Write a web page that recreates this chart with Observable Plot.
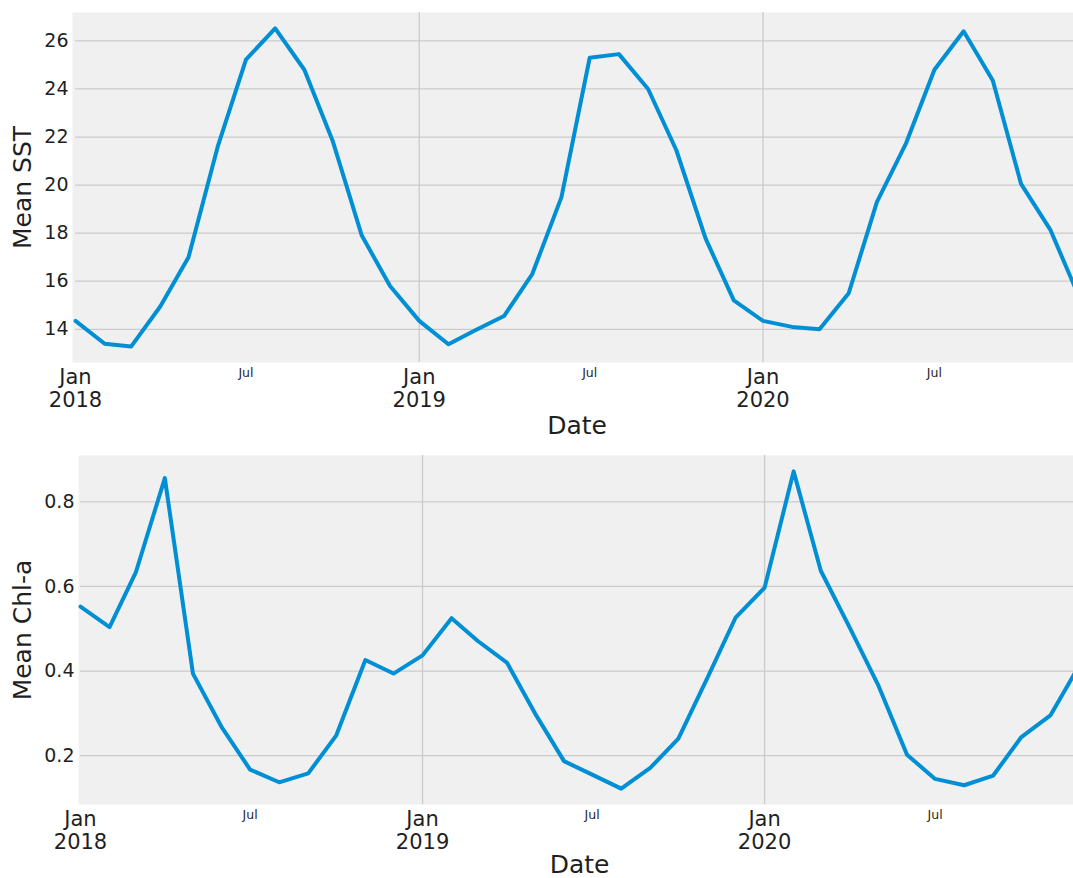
<!DOCTYPE html>
<html>
<head>
<meta charset="utf-8">
<script src="https://cdn.jsdelivr.net/npm/d3@7"></script>
<script src="https://cdn.jsdelivr.net/npm/@observablehq/plot@0.6"></script>
<style>
  html, body { margin: 0; padding: 0; background: #fff; overflow: hidden; }
  #chart svg { display: block; overflow: hidden; }
</style>
</head>
<body>
<div id="chart"></div>
<script>
// Monthly means, Jan 2018 – Dec 2020
const months = [
  "2018-01-01","2018-02-01","2018-03-01","2018-04-01","2018-05-01","2018-06-01",
  "2018-07-01","2018-08-01","2018-09-01","2018-10-01","2018-11-01","2018-12-01",
  "2019-01-01","2019-02-01","2019-03-01","2019-04-01","2019-05-01","2019-06-01",
  "2019-07-01","2019-08-01","2019-09-01","2019-10-01","2019-11-01","2019-12-01",
  "2020-01-01","2020-02-01","2020-03-01","2020-04-01","2020-05-01","2020-06-01",
  "2020-07-01","2020-08-01","2020-09-01","2020-10-01","2020-11-01","2020-12-01"
];

// Sea surface temperature
const sst = [
  14.35, 13.40, 13.28, 14.95, 17.00, 21.60, 25.22, 26.52, 24.80, 21.85, 17.90, 15.80,
  14.35, 13.38, 13.95, 14.55, 16.30, 19.50, 25.30, 25.45, 24.00, 21.45, 17.78, 15.20,
  14.35, 14.10, 14.00, 15.50, 19.30, 21.75, 24.80, 26.40, 24.35, 20.05, 18.15, 15.40
];

// Chlorophyll-a concentration
const chl = [
  0.552, 0.504, 0.633, 0.856, 0.394, 0.266, 0.167, 0.137, 0.158, 0.248, 0.426, 0.394,
  0.437, 0.525, 0.471, 0.420, 0.300, 0.187, 0.155, 0.122, 0.171, 0.240, 0.384, 0.526,
  0.597, 0.872, 0.637, 0.502, 0.368, 0.202, 0.145, 0.130, 0.153, 0.244, 0.295, 0.410
];

// Axis ticks
const sstTicks = [14, 16, 18, 20, 22, 24, 26];
const chlTicks = [0.2, 0.4, 0.6, 0.8];
const yearTicks = ["2018-01-01", "2019-01-01", "2020-01-01"];
const yearLabels = ["Jan\n2018", "Jan\n2019", "Jan\n2020"];
const midTicks = ["2018-07-01", "2019-07-01", "2020-07-01"];
const midLabel = "Jul";

const FONT = "DejaVu Sans, Liberation Sans, sans-serif";
const LINE = "#008fd5";
const GRID = "#cbcbcb";
const BG = "#f0f0f0";
const INK = "#1f1f1f";

const dates = months.map(m => new Date(m));
const yearDates = yearTicks.map(d => new Date(d));
const midDates = midTicks.map(d => new Date(d));

function padded(values) {
  const [lo, hi] = d3.extent(values);
  const pad = (hi - lo) * 0.05;
  return [lo - pad, hi + pad];
}

function panel({values, ticks, tickFmt, ylabel, height, marginTop, marginBottom, marginLeft, bgInset, yPad, ylabelDx, dateDy}) {
  const data = dates.map((date, i) => ({date, value: values[i]}));
  return Plot.plot({
    width: 1073,
    height,
    marginTop,
    marginBottom,
    marginLeft,
    marginRight: -5,
    style: {fontFamily: FONT, color: INK, background: "#fff"},
    x: {type: "utc", domain: [dates[0], dates[dates.length - 1]]},
    y: {domain: padded(values)},
    marks: [
      Plot.frame({fill: BG, stroke: null, insetLeft: -bgInset}),
      Plot.gridY(ticks, {stroke: GRID, strokeOpacity: 1, strokeWidth: 1.3}),
      Plot.gridX(yearDates.slice(1), {stroke: GRID, strokeOpacity: 1, strokeWidth: 1.3}),
      Plot.line(data, {x: "date", y: "value", stroke: LINE, strokeWidth: 4, strokeLinejoin: "round"}),
      Plot.axisY(ticks, {tickSize: 0, tickPadding: yPad, fontSize: 19, tickFormat: tickFmt, label: null}),
      Plot.axisX(yearDates, {
        tickSize: 0, tickPadding: 5, fontSize: 21, lineHeight: 1.1,
        tickFormat: (d, i) => yearLabels[i], label: null
      }),
      Plot.axisX(midDates, {
        tickSize: 0, tickPadding: 6, fontSize: 12.5,
        tickFormat: () => midLabel, label: null
      }),
      Plot.text(["Date"], {frameAnchor: "bottom", dy: dateDy, fontSize: 25, lineAnchor: "middle", fill: INK}),
      Plot.text([ylabel], {frameAnchor: "left", dx: ylabelDx, rotate: -90, fontSize: 25, textAnchor: "middle", lineAnchor: "middle", fill: INK})
    ]
  });
}

const sstPanel = panel({
  values: sst, ticks: sstTicks, tickFmt: d => String(d), ylabel: "Mean SST",
  height: 440, marginTop: 12, marginBottom: 78, marginLeft: 75, bgInset: 3, yPad: 7,
  ylabelDx: -53, dateDy: 63
});
const chlPanel = panel({
  values: chl, ticks: chlTicks, tickFmt: d => d.toFixed(1), ylabel: "Mean Chl-a",
  height: 438, marginTop: 15, marginBottom: 74, marginLeft: 80, bgInset: 2, yPad: 6,
  ylabelDx: -58, dateDy: 60
});

const chart = document.getElementById("chart");
chart.appendChild(sstPanel);
chart.appendChild(chlPanel);
</script>
</body>
</html>
